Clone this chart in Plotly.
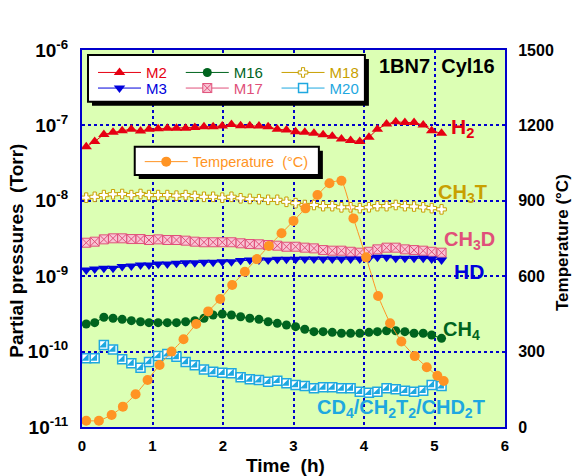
import plotly.graph_objects as go

# ---------------- data ----------------
time_h = [0.06, 0.18, 0.31, 0.44, 0.57, 0.70, 0.83, 0.95, 1.08, 1.21,
          1.34, 1.47, 1.60, 1.73, 1.86, 1.99, 2.12, 2.25, 2.38, 2.51,
          2.64, 2.77, 2.90, 3.03, 3.16, 3.29, 3.42, 3.55, 3.68, 3.81,
          3.94, 4.07, 4.19, 4.32, 4.45, 4.58, 4.71, 4.84, 4.96, 5.10]

m2 = [5.2e-8, 6.1e-8, 7.6e-8, 8.1e-8, 8.5e-8, 8.9e-8, 8.4e-8, 8.9e-8, 9.0e-8, 9.2e-8,
      9.2e-8, 9.2e-8, 9.4e-8, 9.6e-8, 9.6e-8, 9.8e-8, 1.03e-7, 9.9e-8, 9.9e-8, 9.8e-8,
      9.6e-8, 8.9e-8, 8.7e-8, 8.25e-8, 8.1e-8, 7.85e-8, 7.5e-8, 7.2e-8, 6.6e-8, 6.3e-8,
      6.1e-8, 6.95e-8, 8.9e-8, 1.04e-7, 1.12e-7, 1.09e-7, 1.09e-7, 1.01e-7, 8.5e-8, 7.85e-8]

m3 = [1.21e-9, 1.25e-9, 1.27e-9, 1.27e-9, 1.34e-9, 1.37e-9, 1.41e-9, 1.41e-9, 1.45e-9, 1.45e-9,
      1.48e-9, 1.51e-9, 1.51e-9, 1.53e-9, 1.53e-9, 1.56e-9, 1.56e-9, 1.61e-9, 1.64e-9, 1.64e-9,
      1.64e-9, 1.68e-9, 1.68e-9, 1.68e-9, 1.69e-9, 1.69e-9, 1.69e-9, 1.69e-9, 1.69e-9, 1.69e-9,
      1.69e-9, 1.73e-9, 1.78e-9, 1.78e-9, 1.73e-9, 1.73e-9, 1.73e-9, 1.73e-9, 1.69e-9, 1.64e-9]

m16 = [2.32e-10, 2.42e-10, 2.85e-10, 2.77e-10, 2.68e-10, 2.57e-10, 2.49e-10, 2.42e-10, 2.42e-10, 2.42e-10,
       2.42e-10, 2.49e-10, 2.57e-10, 2.77e-10, 3.06e-10, 3.15e-10, 3.06e-10, 2.90e-10, 2.77e-10, 2.68e-10,
       2.49e-10, 2.37e-10, 2.25e-10, 2.14e-10, 1.98e-10, 1.84e-10, 1.84e-10, 1.80e-10, 1.75e-10, 1.75e-10,
       1.75e-10, 1.80e-10, 1.84e-10, 1.89e-10, 1.89e-10, 1.84e-10, 1.75e-10, 1.75e-10, 1.66e-10, 1.50e-10]

m17 = [2.78e-9, 2.87e-9, 3.08e-9, 3.18e-9, 3.18e-9, 3.11e-9, 3.11e-9, 3.02e-9, 3.08e-9, 3.02e-9,
       3.02e-9, 2.96e-9, 2.87e-9, 2.82e-9, 2.82e-9, 2.82e-9, 2.82e-9, 2.73e-9, 2.67e-9, 2.65e-9,
       2.59e-9, 2.54e-9, 2.46e-9, 2.46e-9, 2.39e-9, 2.34e-9, 2.22e-9, 2.18e-9, 2.18e-9, 2.11e-9,
       2.05e-9, 2.11e-9, 2.27e-9, 2.39e-9, 2.39e-9, 2.27e-9, 2.22e-9, 2.18e-9, 2.11e-9, 2.05e-9]

m18 = [1.10e-8, 1.13e-8, 1.19e-8, 1.22e-8, 1.23e-8, 1.19e-8, 1.23e-8, 1.19e-8, 1.19e-8, 1.19e-8,
       1.17e-8, 1.19e-8, 1.16e-8, 1.13e-8, 1.13e-8, 1.10e-8, 1.13e-8, 1.08e-8, 1.06e-8, 1.05e-8,
       1.03e-8, 1.03e-8, 9.7e-9, 9.3e-9, 8.8e-9, 8.8e-9, 8.5e-9, 8.5e-9, 8.2e-9, 8.2e-9,
       8.0e-9, 8.2e-9, 8.5e-9, 8.5e-9, 8.8e-9, 8.5e-9, 8.4e-9, 8.2e-9, 8.0e-9, 7.7e-9]

m20 = [8.15e-11, 8.15e-11, 1.22e-10, 1.07e-10, 7.9e-11, 7.0e-11, 6.1e-11, 7.3e-11, 8.75e-11, 9.3e-11,
       8.55e-11, 7.3e-11, 6.6e-11, 5.8e-11, 5.4e-11, 5.25e-11, 5.15e-11, 4.56e-11, 4.29e-11, 4.2e-11,
       3.99e-11, 4.11e-11, 3.8e-11, 3.61e-11, 3.5e-11, 3.26e-11, 3.36e-11, 3.36e-11, 3.26e-11, 3.26e-11,
       2.94e-11, 2.85e-11, 2.94e-11, 3.26e-11, 3.16e-11, 3.03e-11, 2.94e-11, 3.03e-11, 3.61e-11, 3.5e-11]

temp_time_h = [0.06, 0.24, 0.42, 0.58, 0.76, 0.93, 1.10, 1.27, 1.44, 1.62,
               1.79, 1.96, 2.13, 2.31, 2.48, 2.65, 2.83, 3.00, 3.17, 3.34,
               3.51, 3.68, 3.85, 4.03, 4.20, 4.37, 4.53, 4.72, 4.89, 5.04, 5.13]
temp_c = [25, 25, 48, 81, 130, 187, 247, 300, 349, 410,
          460, 509, 565, 618, 668, 720, 771, 820, 870, 923,
          970, 980, 830, 675, 521, 413, 340, 282, 238, 204, 183]

x_ticks = [0, 1, 2, 3, 4, 5, 6]
y_ticks = [1e-11, 1e-10, 1e-9, 1e-8, 1e-7, 1e-6]
y_ticktext = ["10<sup>-11</sup>", "10<sup>-10</sup>", "10<sup>-9</sup>",
              "10<sup>-8</sup>", "10<sup>-7</sup>", "10<sup>-6</sup>"]
t_ticks = [0, 300, 600, 900, 1200, 1500]

# ---------------- style ----------------
FONT = "Liberation Sans, Arial, sans-serif"
RED = "#e60012"
BLUE = "#0000dc"
GREEN = "#00641e"
PINK = "#e0507a"
GOLD = "#c8a000"
CYAN = "#1ea8e0"
ORANGE = "#ff9424"
GRIDBLUE = "#0000cc"

W, H = 573, 476
L, R, T, B = 82.3, 505.0, 50.0, 427.0


def px(x):
    return (x - L) / (R - L)


def py(y):
    return (B - y) / (B - T)


def cname(txt, col):
    return "<span style='color:%s'>%s</span>" % (col, txt)


fig = go.Figure()

fig.add_trace(go.Scatter(x=time_h, y=m18, mode="lines+markers", name=cname("M18", GOLD),
                         legend="legend5",
                         line=dict(color=GOLD, width=1),
                         marker=dict(symbol="cross", size=8, color="white",
                                     line=dict(color=GOLD, width=1))))
fig.add_trace(go.Scatter(x=time_h, y=m17, mode="lines+markers", name=cname("M17", PINK),
                         legend="legend4",
                         line=dict(color=PINK, width=1),
                         marker=dict(symbol="square-x", size=9, color="#f8c4d4",
                                     line=dict(color=PINK, width=1))))
fig.add_trace(go.Scatter(x=time_h, y=m3, mode="lines+markers", name=cname("M3", BLUE),
                         legend="legend2",
                         line=dict(color=BLUE, width=1),
                         marker=dict(symbol="triangle-down", size=10, color=BLUE)))
fig.add_trace(go.Scatter(x=time_h, y=m16, mode="lines+markers", name=cname("M16", GREEN),
                         legend="legend3",
                         line=dict(color=GREEN, width=1),
                         marker=dict(symbol="circle", size=9, color=GREEN)))
fig.add_trace(go.Scatter(x=time_h, y=m20, mode="lines+markers", name=cname("M20", CYAN),
                         legend="legend6",
                         line=dict(color=CYAN, width=1),
                         marker=dict(symbol="square", size=9, color="white",
                                     line=dict(color=CYAN, width=1.5))))
fig.add_trace(go.Scatter(x=time_h, y=m20, mode="markers", showlegend=False,
                         marker=dict(symbol="triangle-se", size=8, color=CYAN,
                                     line=dict(width=0))))
fig.add_trace(go.Scatter(x=time_h, y=m2, mode="lines+markers", name=cname("M2", RED),
                         legend="legend",
                         line=dict(color=RED, width=1),
                         marker=dict(symbol="triangle-up", size=10, color=RED)))
fig.add_trace(go.Scatter(x=temp_time_h, y=temp_c, mode="lines+markers", yaxis="y2",
                         name=cname("Temperature\u00a0 (°C)", ORANGE), legend="legend7",
                         line=dict(color=ORANGE, width=1, shape="spline", smoothing=0.4),
                         marker=dict(symbol="circle", size=10, color=ORANGE)))

# legend boxes (shadow + white box)
shapes = []
for (x0, y0, x1, y1) in [(88.3, 55.0, 365.0, 101.7), (135.0, 146.7, 319.0, 175.0)]:
    shapes.append(dict(type="rect", xref="paper", yref="paper",
                       x0=px(x0 + 4), x1=px(x1 + 4), y0=py(y0 + 4), y1=py(y1 + 4),
                       fillcolor="black", line=dict(width=0), layer="above"))
    shapes.append(dict(type="rect", xref="paper", yref="paper",
                       x0=px(x0), x1=px(x1), y0=py(y0), y1=py(y1),
                       fillcolor="white", line=dict(color="black", width=2), layer="above"))


def leg(xl, yc, size=15):
    return dict(x=px(xl - 5), y=py(yc), xanchor="left", yanchor="middle",
                bgcolor="rgba(0,0,0,0)", borderwidth=0, itemwidth=43,
                font=dict(family=FONT, size=size, color="black"),
                itemclick=False, itemdoubleclick=False)


annots = []


def lab(txt, xl, yc, col, size=20, anchor="left", angle=0):
    annots.append(dict(text="<b>%s</b>" % txt, xref="paper", yref="paper",
                       x=px(xl), y=py(yc), xanchor=anchor, yanchor="middle",
                       textangle=angle,
                       showarrow=False, font=dict(family=FONT, size=size, color=col)))


lab("1BN7\u00a0 Cyl16", 437.5, 66, "black", 20, "center")
lab("H<sub>2</sub>", 449, 128, RED, 21)
lab("CH<sub>3</sub>T", 436, 193, GOLD, 20)
lab("CH<sub>3</sub>D", 442, 240, PINK, 20)
lab("HD", 452, 271.5, BLUE, 21)
lab("CH<sub>4</sub>", 441, 330, GREEN, 20)
lab("CD<sub>4</sub>/CH<sub>2</sub>T<sub>2</sub>/CHD<sub>2</sub>T", 315, 408, CYAN, 20)
# axis titles
lab("Time\u00a0 (h)", 286, 465, "black", 19, "center")
lab("Partial pressures\u00a0 (Torr)", 16, 251, "black", 19, "center", -90)
lab("Temperature (°C)", 562, 243, "black", 17, "center", -90)

axis_common = dict(showline=True, linecolor=GRIDBLUE, linewidth=2, mirror=True,
                   showgrid=True, gridcolor=GRIDBLUE, gridwidth=1.5, griddash="dot",
                   zeroline=False, ticks="outside", tickcolor="rgba(0,0,0,0)")

fig.update_layout(
    width=W, height=H,
    margin=dict(l=L, r=W - R, t=T, b=H - B, autoexpand=False),
    paper_bgcolor="white", plot_bgcolor="#dcffb4",
    font=dict(family=FONT, color="black"),
    shapes=shapes, annotations=annots,
    legend=leg(98.3, 72.7), legend2=leg(98.3, 88.3),
    legend3=leg(186, 72.7), legend4=leg(186, 88.3),
    legend5=leg(281.7, 72.7), legend6=leg(281.7, 88.3),
    legend7=leg(145, 161.7, 14.5),
    xaxis=dict(range=[0, 6], tickvals=x_ticks,
               ticktext=["<b>%d</b>" % v for v in x_ticks],
               tickfont=dict(family=FONT, size=15, color="black"), ticklen=4,
               **axis_common),
    yaxis=dict(type="log", range=[-11, -6], tickvals=y_ticks,
               ticktext=["<b>%s</b>" % t for t in y_ticktext],
               tickfont=dict(family=FONT, size=19, color="black"), ticklen=8,
               **axis_common),
    yaxis2=dict(overlaying="y", side="right", range=[0, 1500], tickvals=t_ticks,
                ticktext=["<b>%d</b>" % v for v in t_ticks],
                tickfont=dict(family=FONT, size=16, color="black"),
                showgrid=False, zeroline=False, showline=False,
                ticks="outside", tickcolor="rgba(0,0,0,0)", ticklen=9),
)

fig.write_html("out.html", config={"displayModeBar": False},
               post_script="document.body.style.margin='0';document.body.style.padding='0';")
